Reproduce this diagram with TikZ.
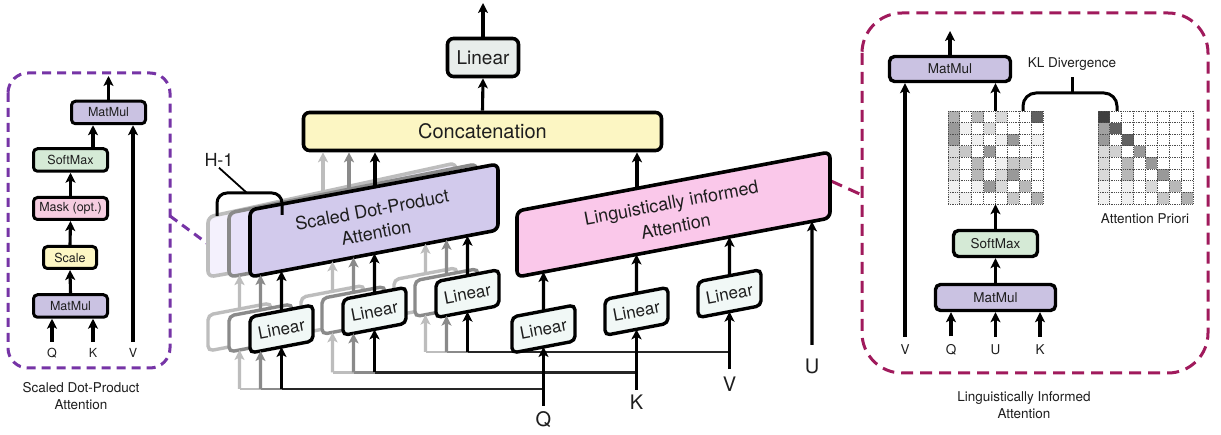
\documentclass[tikz,border=0pt]{standalone}
\usepackage{fontspec}
\setmainfont{TeX Gyre Heros}
\usetikzlibrary{arrows.meta,calc}
\definecolor{lav}{HTML}{CAC2E2}
\definecolor{lavA}{HTML}{D2CAEC}
\definecolor{lavB}{HTML}{E7E1F9}
\definecolor{lavC}{HTML}{F4F1FD}
\definecolor{smgreen}{HTML}{D5EAD6}
\definecolor{mpink}{HTML}{F6CDE0}
\definecolor{syel}{HTML}{FDF7C4}
\definecolor{cyel}{HTML}{FCF6C3}
\definecolor{lingray}{HTML}{E8EDEB}
\definecolor{liapink}{HTML}{FAC8EA}
\definecolor{linfill}{HTML}{F1F8F6}
\definecolor{dpurple}{HTML}{7634A6}
\definecolor{dcrim}{HTML}{A01A5C}
\definecolor{gA}{HTML}{BDBDBD}
\definecolor{gB}{HTML}{8A8A8A}
\definecolor{txt}{HTML}{1E1E1E}
\newcommand\myfs[1]{\fontsize{#1pt}{#1pt}\selectfont}
\newcommand\myfsb[2]{\fontsize{#1pt}{#2pt}\selectfont}
\newcommand\myqbox[8]{%
 \coordinate (#1-tl) at ({#3},{#5});
 \coordinate (#1-tr) at ({#4},{#6});
 \coordinate (#1-br) at ({#4},{#7});
 \coordinate (#1-bl) at ({#3},{#8});
 \coordinate (#1-t) at ($(#1-tl)!.5!(#1-tr)$);
 \coordinate (#1-b) at ($(#1-bl)!.5!(#1-br)$);
 \coordinate (#1-c) at ($(#1-t)!.5!(#1-b)$);
 \draw[#2] (#1-tl) -- (#1-tr) -- (#1-br) -- (#1-bl) -- cycle;}
\newcommand\mylbx[4]{\myqbox{#1}{#2}{#3}{#3+63}{#4}{#4-12}{#4+24}{#4+36}}
\begin{document}
\begin{tikzpicture}[x=1pt,y=-1pt,
  every node/.style={text=txt, inner sep=1pt},
  arr/.style={line width=3.1pt, draw=black, -{Stealth[length=10pt,width=10pt,inset=2.5pt]}},
  arrA/.style={arr, draw=gA},
  arrB/.style={arr, draw=gB},
  fA/.style={line width=2.7pt, draw=gA},
  fB/.style={line width=2.7pt, draw=gB},
  fF/.style={line width=2.7pt, draw=black!85},
  sbox/.style={draw=black, line width=3pt, rounded corners=4pt, inner sep=0pt, font=\myfs{12.5}},
  rbox/.style={draw=black, line width=3.4pt, rounded corners=5pt, inner sep=0pt, font=\myfs{13.5}},
  mbox/.style={draw=black, line width=3.6pt, rounded corners=6pt, inner sep=0pt},
  sdF/.style={draw=black, fill=lavA, line width=3.6pt, rounded corners=6pt},
  sdB/.style={draw=gB, fill=lavB, line width=3.6pt, rounded corners=6pt},
  sdA/.style={draw=gA, fill=lavC, line width=3.6pt, rounded corners=6pt},
  lnF/.style={draw=black, fill=linfill, line width=3.4pt, rounded corners=5pt},
  lnB/.style={draw=gB, fill=white, line width=3.4pt, rounded corners=5pt},
  lnA/.style={draw=gA, fill=white, line width=3.4pt, rounded corners=5pt},
  liab/.style={draw=black, fill=liapink, line width=3.6pt, rounded corners=6pt},
  brk/.style={draw=black, line width=3pt, rounded corners=10pt},
  lintxt/.style={rotate=10.76, font=\myfs{17}},
  lbl/.style={font=\myfs{20}},
  slbl/.style={font=\myfs{12.5}},
  rlbl/.style={font=\myfs{13.5}},
  gridl/.style={draw=black!70, line width=0.8pt, dash pattern=on 1pt off 0.8pt},
]
\useasboundingbox (0,0) rectangle (1221,435);
\fill[white] (0,0) rectangle (1221,435);

% ================= left panel =================
\draw[dpurple, line width=3pt, dash pattern=on 9pt off 6pt, rounded corners=20pt] (8,73) rectangle (170,368);
\node[sbox, fill=lav, minimum width=74pt, minimum height=22.5pt] (lmm2) at (108.5,112.5) {MatMul};
\node[sbox, fill=smgreen, minimum width=74pt, minimum height=22.5pt] (lsm) at (70.5,160) {SoftMax};
\node[sbox, fill=mpink, minimum width=74pt, minimum height=22pt] (lmask) at (70.5,208.5) {Mask (opt.)};
\node[sbox, fill=syel, minimum width=53pt, minimum height=22pt] (lscale) at (70,257.5) {Scale};
\node[sbox, fill=lav, minimum width=74pt, minimum height=22.5pt] (lmm1) at (70.5,306) {MatMul};
\node[slbl] (lq) at (52,353) {Q};
\node[slbl] (lk) at (93,353) {K};
\node[slbl] (lv) at (133,353) {V};
\coordinate (lout) at (108.5,76);
\draw[arr] (lmm2.north) -- (lout);
\draw[arr] ([xshift=-15.5pt]lmm2.south |- lsm.north) -- ([xshift=-15.5pt]lmm2.south);
\draw[arr] (lmask.north) -- (lsm.south);
\draw[arr] (lscale.north) -- (lmask.south);
\draw[arr] (lmm1.north) -- (lscale.south);
\draw[arr] ([yshift=5pt]lq.north) -- (lq.north |- lmm1.south);
\draw[arr] ([yshift=5pt]lk.north) -- (lk.north |- lmm1.south);
\draw[arr] ([yshift=5pt]lv.north) -- (lv.north |- lmm2.south);
\node[align=center, font=\myfsb{13.5}{17}] (lcap) at (81,396.5) {Scaled Dot-Product\\Attention};
\coordinate (lpc1) at (170,216);
\coordinate (lpc2) at (208,244);
\draw[dpurple, line width=3pt, dash pattern=on 9pt off 6pt] (lpc1) -- (lpc2);

% ================= right panel =================
\coordinate (rpc1) at (831,181);
\coordinate (rpc2) at (862,195);
\draw[dcrim, line width=3pt, dash pattern=on 12pt off 7pt] (rpc1) -- (rpc2);
\draw[dcrim, line width=3pt, dash pattern=on 12pt off 7pt, rounded corners=40pt] (862,13) rectangle (1208,373);
\node[rbox, fill=lav, minimum width=121pt, minimum height=25pt] (rmm2) at (950,69) {MatMul};
\node[rbox, fill=smgreen, minimum width=84pt, minimum height=26pt] (rsm) at (995.5,243.5) {SoftMax};
\node[rbox, fill=lav, minimum width=120pt, minimum height=26pt] (rmm1) at (995.5,297.5) {MatMul};
\node[inner sep=0pt, minimum width=95pt, minimum height=93pt] (attm) at (995.5,157.5) {};
\node[inner sep=0pt, minimum width=95pt, minimum height=93pt] (prior) at (1145.5,157.5) {};
\foreach \c/\r/\g in {0/0/31,2/0/28,4/0/15,7/0/62, 0/1/40,1/1/6,3/1/15, 0/2/40,2/2/6,4/2/6,5/2/40,7/2/6, 0/3/15,1/3/22,3/3/40, 0/4/15,2/4/28,4/4/6,5/4/22,6/4/18, 0/5/15,2/5/28,4/5/15,5/5/40, 0/6/6,2/6/6,3/6/40,4/6/15,6/6/28, 0/7/6,1/7/6,5/7/22,7/7/31}
  \fill[black!\g] ({948+\c*11.875},{111+\r*11.625}) rectangle ++(11.875,11.625);
\foreach \c/\r/\g in {0/0/75, 0/1/37,1/1/62, 0/2/40,2/2/62, 0/3/15,1/3/18,3/3/40, 0/4/15,2/4/28,4/4/40, 0/5/15,2/5/28,5/5/40, 0/6/6,2/6/6,4/6/15,6/6/28, 0/7/6,2/7/6,5/7/22,7/7/31}
  \fill[black!\g] ({1098+\c*11.875},{111+\r*11.625}) rectangle ++(11.875,11.625);
\foreach \i in {0,...,8} {
  \draw[gridl] ({948+\i*11.875},111) -- ({948+\i*11.875},204);
  \draw[gridl] (948,{111+\i*11.625}) -- (1043,{111+\i*11.625});
  \draw[gridl] ({1098+\i*11.875},111) -- ({1098+\i*11.875},204);
  \draw[gridl] (1098,{111+\i*11.625}) -- (1193,{111+\i*11.625});
}
\node[rlbl] (rv) at (905,350) {V};
\node[rlbl] (rq) at (951,350) {Q};
\node[rlbl] (ru) at (995.5,350) {U};
\node[rlbl] (rk) at (1040,350) {K};
\node[rlbl] (kl) at (1072,64) {KL Divergence};
\node[rlbl] (apri) at (1145,219) {Attention Priori};
\node[align=center, font=\myfsb{13.5}{16.5}] (rcap) at (1024,405) {Linguistically Informed\\Attention};
\coordinate (rout) at (950,31);
\draw[arr] (rmm2.north) -- (rout);
\draw[arr] ([yshift=7pt]rv.north) -- (rv.north |- rmm2.south);
\draw[arr] (attm.north) -- (attm.north |- rmm2.south);
\draw[arr] (rsm.north) -- (attm.south);
\draw[arr] (rmm1.north) -- (rsm.south);
\draw[arr] ([yshift=7pt]rq.north) -- (rq.north |- rmm1.south);
\draw[arr] ([yshift=7pt]ru.north) -- (ru.north |- rmm1.south);
\draw[arr] ([yshift=7pt]rk.north) -- (rk.north |- rmm1.south);
\coordinate (klt) at (1072,93);
\draw[brk, rounded corners=13pt] ([xshift=27.5pt]attm.north) |- (klt) -| ([xshift=-28.5pt]prior.north);
\draw[line width=3pt] (klt) -- ([yshift=-5pt]kl.south);

% ================= central part =================
\node[mbox, fill=lingray, minimum width=71pt, minimum height=38pt, font=\myfs{19}] (toplin) at (483,57.5) {Linear};
\node[mbox, fill=cyel, minimum width=358pt, minimum height=38pt, font=\myfs{20}] (concat) at (482.5,131.5) {Concatenation};
\coordinate (topout) at (483,3);
\draw[arr] (toplin.north) -- (topout);
\draw[arr] (concat.north) -- (toplin.south);

% input labels
\node[lbl] (mq) at (543.5,420) {Q};
\node[lbl] (mk) at (636.5,402) {K};
\node[lbl] (mv) at (729.5,384.5) {V};
\node[lbl] (mu) at (812,366) {U};
\coordinate (qj) at (543.5,389);
\coordinate (kj) at (636.5,372.5);
\coordinate (vj) at (729.5,352);

% feed lines (behind boxes)
\draw[fA] (qj) -- (qj -| 239.5,0);
\draw[fB] (qj) -- (qj -| 260.5,0);
\draw[fF] (qj) -- (qj -| 281.5,0);
\draw[fA] (kj) -- (kj -| 332.5,0);
\draw[fB] (kj) -- (kj -| 353.5,0);
\draw[fF] (kj) -- (kj -| 374.5,0);
\draw[fA] (vj) -- (vj -| 425.5,0);
\draw[fB] (vj) -- (vj -| 446.5,0);
\draw[fF] (vj) -- (vj -| 467.5,0);

% SDPA stack
\myqbox{SA}{sdA}{208}{456}{217}{163}{234}{277}
\myqbox{SB}{sdB}{229}{477}{213}{164}{232}{277}
\myqbox{SF}{sdF}{250}{498}{210}{164}{230}{277}
\node[rotate=10.6, align=center, font=\myfsb{18}{23}] (sdtxt) at (374,221) {Scaled Dot-Product\\Attention};

% LIA box
\myqbox{LIA}{liab}{517}{830}{211}{152}{218}{277}
\node[rotate=10.67, align=center, font=\myfsb{18}{24}] (liatxt) at (673.5,214.5) {Linguistically informed\\Attention};

% linear groups (right to left)
\mylbx{A3}{lnA}{394}{279.66}
\mylbx{B3}{lnB}{415}{280.66}
\mylbx{F3}{lnF}{436}{281.66}
\mylbx{A2}{lnA}{301}{297.33}
\mylbx{B2}{lnB}{322}{298.33}
\mylbx{F2}{lnF}{343}{299.33}
\mylbx{A1}{lnA}{208}{315}
\mylbx{B1}{lnB}{229}{316}
\mylbx{F1}{lnF}{250}{317}
\mylbx{LQ}{lnF}{512}{317}
\mylbx{LK}{lnF}{605}{299.33}
\mylbx{LV}{lnF}{698}{281.66}
\node[lintxt] (t1) at (F1-c) {Linear};
\node[lintxt] (t2) at (F2-c) {Linear};
\node[lintxt] (t3) at (F3-c) {Linear};
\node[lintxt] (tq) at (LQ-c) {Linear};
\node[lintxt] (tk) at (LK-c) {Linear};
\node[lintxt] (tv) at (LV-c) {Linear};

% inputs into linear groups
\draw[arrA] (qj -| A1-b) -- ($(B1-bl)!{10.5/63}!(B1-br)$);
\draw[arrB] (qj -| B1-b) -- ($(F1-bl)!{10.5/63}!(F1-br)$);
\draw[arr] (qj -| F1-b) -- (F1-b);
\draw[arrA] (kj -| A2-b) -- ($(B2-bl)!{10.5/63}!(B2-br)$);
\draw[arrB] (kj -| B2-b) -- ($(F2-bl)!{10.5/63}!(F2-br)$);
\draw[arr] (kj -| F2-b) -- (F2-b);
\draw[arrA] (vj -| A3-b) -- ($(B3-bl)!{10.5/63}!(B3-br)$);
\draw[arrB] (vj -| B3-b) -- ($(F3-bl)!{10.5/63}!(F3-br)$);
\draw[arr] (vj -| F3-b) -- (F3-b);

% linear groups into SDPA
\draw[arrA] (A1-t) -- ($(SB-bl)!{10.5/248}!(SB-br)$);
\draw[arrB] (B1-t) -- ($(SF-bl)!{10.5/248}!(SF-br)$);
\draw[arr] (F1-t) -- ($(SF-bl)!{31.5/248}!(SF-br)$);
\draw[arrA] (A2-t) -- ($(SF-bl)!{82.5/248}!(SF-br)$);
\draw[arrB] (B2-t) -- ($(SF-bl)!{103.5/248}!(SF-br)$);
\draw[arr] (F2-t) -- ($(SF-bl)!{124.5/248}!(SF-br)$);
\draw[arrA] (A3-t) -- ($(SF-bl)!{175.5/248}!(SF-br)$);
\draw[arrB] (B3-t) -- ($(SF-bl)!{196.5/248}!(SF-br)$);
\draw[arr] (F3-t) -- ($(SF-bl)!{217.5/248}!(SF-br)$);

% SDPA into concat
\coordinate (ca) at ($(SA-tl)!{115/248}!(SA-tr)$);
\coordinate (cb) at ($(SB-tl)!{120/248}!(SB-tr)$);
\coordinate (cf) at ($(SF-tl)!{125/248}!(SF-tr)$);
\coordinate (cl) at ($(LIA-tl)!{120/313}!(LIA-tr)$);
\draw[arrA] (ca) -- (ca |- concat.south);
\draw[arrB] (cb) -- (cb |- concat.south);
\draw[arr] (cf) -- (cf |- concat.south);
\draw[arr] (cl) -- (cl |- concat.south);

% LIA inputs
\draw[arr] ([yshift=5pt]mq.north) -- (LQ-b);
\draw[arr] ([yshift=4pt]mk.north) -- (LK-b);
\draw[arr] ([yshift=7pt]mv.north) -- (LV-b);
\draw[arr] ([yshift=12.5pt]mu.north) -- ($(LIA-bl)!{295/313}!(LIA-br)$);
\draw[arr] (LQ-t) -- ($(LIA-bl)!{26.5/313}!(LIA-br)$);
\draw[arr] (LK-t) -- ($(LIA-bl)!{119.5/313}!(LIA-br)$);
\draw[arr] (LV-t) -- ($(LIA-bl)!{212.5/313}!(LIA-br)$);

% H-1 bracket
\node[font=\myfs{18}] (h1) at (219,160) {H-1};
\coordinate (hbl) at (217,216);
\coordinate (hbt) at (247,193);
\coordinate (hbr) at (282,215);
\draw[brk] (hbl) |- (hbt) -| (hbr);
\draw[line width=1.8pt] (h1.south) -- (hbt);
\end{tikzpicture}
\end{document}
